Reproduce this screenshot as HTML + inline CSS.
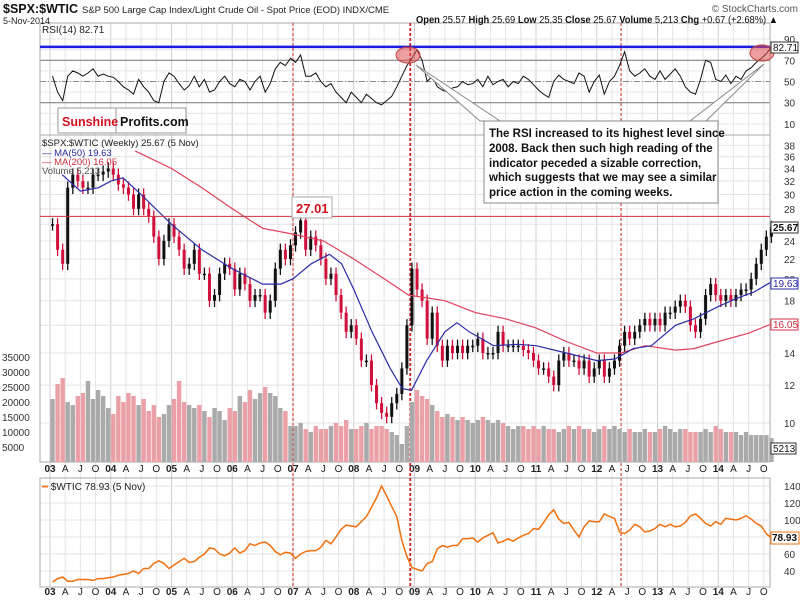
<!DOCTYPE html>
<html><head><meta charset="utf-8"><style>
body{margin:0;background:#fff;font-family:"Liberation Sans",sans-serif}
svg text{font-family:"Liberation Sans",sans-serif}
</style></head><body>
<svg id="c" width="800" height="601" viewBox="0 0 800 601" xmlns="http://www.w3.org/2000/svg">
<rect width="800" height="601" fill="#fff"/>
<g id="grid"></g>
<g id="marks"></g>
<g id="over"></g>
</svg>
<script>
const startYear = 2003;
const months = 142;
const priceClose = [26,23,21.5,31,33,32,31,31,33,33,33.5,34,
33,31.5,31,30,28,30,28,27,24.5,22,24,26,
24.5,23,21,21.5,23,20.5,20.5,18,18.5,20.5,21.5,21,
19,20.5,19.5,18,18.5,18.5,17,18,21,23,22,23.5,
25,26.5,23,24.5,23.5,22,20,20.5,18.5,17,15.5,16,
15,13.5,13.5,12,11,10.5,10.3,11,11.5,13,16,21,
19,18,15,17,14.5,13.5,14.5,14,14.5,14,14.5,14.5,
15,14,14,14,15.5,14.5,14.5,14.5,14.5,14.2,14,13.5,
13,13,12.5,12,13.5,14,13.5,13.5,13,13.5,12.5,13,
13.5,12.5,13,13.5,14.5,15.5,15,15.5,16,16.5,16,16.5,
16,17,17,17.5,18,17.5,16,15.5,16.5,18.5,19.5,18.5,
18,18.5,18,18.5,19,19,20,21.5,23,24.5,25.67];
const ma50T = [2003.2,2003.5,2003.8,2004.0,2004.2,2004.5,2005.0,2005.5,2006.0,2006.5,2006.8,2007.0,2007.3,2007.6,2007.8,2008.0,2008.3,2008.6,2008.8,2008.95,2009.2,2009.5,2009.7,2009.9,2010.3,2010.7,2011.0,2011.5,2012.0,2012.3,2012.6,2012.9,2013.3,2013.6,2014.0,2014.3,2014.6,2014.85];
const ma50V = [33,30.5,31,32,32.5,30,26,23,21,19.5,19.5,20,21.5,22.5,21.5,19,15.5,13,11.8,11.7,13.5,15.5,16.2,15.5,14.5,14.6,14.5,14,13.5,13.6,14.3,14.5,16,16.5,17.5,18.2,18.8,19.63];
const ma200T = [2004.4,2005.0,2005.5,2006.0,2006.5,2007.0,2007.5,2008.0,2008.5,2008.9,2009.5,2010.0,2010.5,2011.0,2011.5,2012.0,2012.4,2012.8,2013.3,2013.6,2014.0,2014.5,2014.85];
const ma200V = [37,34,31,28,25.5,24.8,24,22,20,18.5,18,17,16.5,15.8,14.8,14,14,14.5,14.2,14.3,14.8,15.4,16.05];
const volume = [21,26,28,20,19,22,23,27,21,24,22,18,
16,22,20,23,22,19,21,17,19,15,16,19,
21,27,20,19,18,19,17,15,18,17,14,18,
17,22,20,24,21,23,25,23,22,18,17,12,
12,13,11,10,12,11,11,12,13,12,14,11,
11,12,13,11,12,12,11,10,9,6,12,20,
24,22,21,19,17,15,16,15,14,15,14,13,
14,15,14,13,14,13,12,11,12,12,11,12,
11,12,11,11,10,11,12,11,12,11,11,10,
11,12,11,12,11,10,11,10,10,11,10,10,
11,12,11,10,11,11,10,10,10,11,10,12,
11,10,10,10,9,10,9,9,9,9,8];
const rsi = [55,40,32,55,60,58,55,58,62,55,57,55,
54,50,45,42,38,52,45,40,32,30,50,58,
55,48,42,46,55,45,52,40,42,50,55,48,
45,52,50,42,50,55,40,48,62,68,65,72,
68,75,55,55,58,50,45,48,40,35,30,40,
35,30,38,34,30,28,32,36,45,55,65,72,
80,70,50,55,45,42,40,44,45,50,47,48,
52,45,55,47,50,52,45,50,48,55,52,47,
42,38,35,50,56,52,50,48,58,55,40,50,
56,38,50,55,65,78,60,55,58,62,55,52,
60,52,57,62,55,45,40,38,52,70,68,52,
50,56,48,55,52,60,63,68,72,76,82.71];
const wtic = [27,31,33,28,28,30,30,30,29,31,31,32,
33,35,36,37,40,37,43,43,49,52,49,43,
47,51,55,50,51,56,60,67,66,60,58,61,
67,61,64,72,70,73,74,70,63,59,62,61,
55,60,63,64,64,68,76,72,80,89,94,93,
92,98,104,115,126,140,128,116,104,76,57,44,
42,40,49,51,66,70,68,70,70,78,78,79,
74,79,82,85,73,75,78,75,79,82,84,90,
89,97,106,112,101,96,97,88,80,92,99,98,
98,107,104,102,86,84,88,95,92,86,87,90,
95,92,95,92,93,97,105,107,102,96,93,98,
95,102,101,100,102,105,101,96,93,84,78.93];
const rsiTicks = [90,70,50,30,10];
const priceTicks = [38,36,34,32,30,28,24,22,20,18,14,12,10];
const volTicks = [35000,30000,25000,20000,15000,10000,5000];
const wticTicks = [140,120,100,60,40];
const yearLabels = ["03","04","05","06","07","08","09","10","11","12","13","14"];
const qLabels = ["A","J","O"];
const markerDates = [2007.0,2008.93,2012.4];

const NS="http://www.w3.org/2000/svg";
const X0=50, PX=60.75, XR=770;
const xT=t=>X0+(t-startYear)*PX;
const xM=i=>xT(startYear+(i+0.5)/12);
const yR=v=>81.5-(v-50)*1.06;
const yP=v=>423-208*Math.log(v/10);
const yV=v=>462-v*15/5000;
const yW=v=>571-(v-40)*0.85;
function mk(tag,attrs,parent,name,text){const e=document.createElementNS(NS,tag);for(const k in attrs)e.setAttribute(k,attrs[k]);


if(text!==undefined)e.textContent=text;document.getElementById(parent).appendChild(e);return e;}

const panels=[[40,23,135],[40,135,462],[40,478,587]];
for(let y=startYear;y<=2014;y++)for(let q=0;q<4;q++){const x=xT(y+q/4);if(x>XR)continue;
 mk('line',{x1:x,x2:x,y1:23,y2:587,stroke:q==0?'#cfcfcf':'#e4e4e4','stroke-width':1},'grid','v-gridline');}
for(let v=10;v<=90;v+=10){mk('line',{x1:40,x2:XR,y1:yR(v),y2:yR(v),stroke:'#e6e6e6'},'grid','rsi-gridline');}
mk('line',{x1:40,x2:XR,y1:yR(70),y2:yR(70),stroke:'#888','stroke-width':1.2},'grid','rsi-70-line');
mk('line',{x1:40,x2:XR,y1:yR(30),y2:yR(30),stroke:'#888','stroke-width':1.2},'grid','rsi-30-line');
mk('line',{x1:40,x2:XR,y1:yR(50),y2:yR(50),stroke:'#888','stroke-dasharray':'6,2,1,2'},'grid','rsi-50-line');
rsiTicks.forEach(v=>mk('text',{x:784,y:yR(v)+4,'font-size':10,fill:'#333'},'grid','rsi-tick',v));
[10,12,14,16,18,20,22,24,26,28,30,32,34,36,38].forEach(v=>mk('line',{x1:40,x2:XR,y1:yP(v),y2:yP(v),stroke:'#e4e4e4'},'grid','price-gridline'));
priceTicks.forEach(v=>mk('text',{x:784,y:yP(v)+4,'font-size':10,fill:'#333'},'grid','price-tick',v));
volTicks.forEach(v=>mk('text',{x:2,y:yV(v)+4,'font-size':10,fill:'#333'},'grid','volume-tick',v));
[40,60,80,100,120,140].forEach(v=>mk('line',{x1:40,x2:XR,y1:yW(v),y2:yW(v),stroke:'#e4e4e4'},'grid','wtic-gridline'));
wticTicks.forEach(v=>mk('text',{x:784,y:yW(v)+4,'font-size':10,fill:'#333'},'grid','wtic-tick',v));
panels.forEach(p=>mk('rect',{x:p[0],y:p[1],width:XR-p[0],height:p[2]-p[1],fill:'none',stroke:'#aaa'},'grid','panel-border'));
[472,595].forEach(ay=>{for(let y=0;y<12;y++){mk('text',{x:xT(startYear+y),y:ay,'font-size':10,'font-weight':'bold','text-anchor':'middle',fill:'#222'},'grid','year-label',yearLabels[y]);
 for(let q=1;q<4;q++){const x=xT(startYear+y+q/4);if(x>XR-2)continue;mk('text',{x:x,y:ay,'font-size':10,'text-anchor':'middle',fill:'#222'},'grid','quarter-label',qLabels[q-1]);}}});
markerDates.forEach((t,i)=>mk('line',{x1:xT(t),x2:xT(t),y1:23,y2:587,stroke:'#d02020','stroke-dasharray':'3,2','stroke-width':i==1?1.8:1},'grid','marker-line'));

volume.forEach((v,i)=>{const up=i==0||priceClose[i]>=priceClose[i-1];const x=xM(i);
 mk('rect',{x:x-2.2,y:yV(v*1000),width:4.4,height:462-yV(v*1000),fill:up?'#aaaaaa':'#eaa0a6'},'marks','volume-bar');});
priceClose.forEach((v,i)=>{const p=i?priceClose[i-1]:v;const up=v>=p;const x=xM(i);
 const hi=Math.max(v,p)*1.03,lo=Math.min(v,p)*0.97;
 mk('line',{x1:x,x2:x,y1:yP(hi),y2:yP(lo),stroke:up?'#111':'#d0103a','stroke-width':1.3},'marks','price-bar');
 mk('rect',{x:x-1.5,y:Math.min(yP(v),yP(p)),width:3,height:Math.max(1.5,Math.abs(yP(v)-yP(p))),fill:up?'#111':'#d0103a'},'marks','price-body');});
function poly(ts,vs,yf,col,w,name,xf){const pts=vs.map((v,i)=>(xf?xf(i):xT(ts[i])).toFixed(1)+','+yf(v).toFixed(1)).join(' ');
 mk('polyline',{points:pts,fill:'none',stroke:col,'stroke-width':w},'marks',name);}
poly(ma200T,ma200V,yP,'#e0405a',1.2,'ma200-line');
poly(ma50T,ma50V,yP,'#2a2aa8',1.2,'ma50-line');
poly(null,rsi,yR,'#111',1,'rsi-line',xM);
poly(null,wtic,yW,'#f07010',1.5,'wtic-line',xM);
mk('line',{x1:40,x2:XR,y1:yR(82.71),y2:yR(82.71),stroke:'#1a1ae0','stroke-width':2.5},'marks','rsi-high-line');
mk('line',{x1:40,x2:XR,y1:yP(27.01),y2:yP(27.01),stroke:'#d03040','stroke-width':1},'marks','level-27-line');
</script>
<svg width="800" height="601" style="position:absolute;left:0;top:0" xmlns="http://www.w3.org/2000/svg">
<text x="3" y="13" font-size="12.5" font-weight="bold" fill="#111">$SPX:$WTIC</text>
<text x="82" y="13" font-size="9.5" fill="#222">S&amp;P 500 Large Cap Index/Light Crude Oil - Spot Price (EOD) INDX/CME</text>
<text x="3" y="24" font-size="9" fill="#222">5-Nov-2014</text>
<text x="798" y="12" font-size="10" fill="#555" text-anchor="end">© StockCharts.com</text>
<text x="416" y="23" font-size="10" fill="#111" textLength="362" lengthAdjust="spacingAndGlyphs"><tspan font-weight="bold">Open</tspan> 25.57 <tspan font-weight="bold">High</tspan> 25.69 <tspan font-weight="bold">Low</tspan> 25.35 <tspan font-weight="bold">Close</tspan> 25.67 <tspan font-weight="bold">Volume</tspan> 5,213 <tspan font-weight="bold">Chg</tspan> +0.67 (+2.68%) ▲</text>
<text x="42" y="33" font-size="10" fill="#222">RSI(14) 82.71</text>
<ellipse cx="408" cy="55" rx="12" ry="8" fill="#e05050" fill-opacity="0.55" stroke="#c04040"/>
<ellipse cx="762" cy="53" rx="12" ry="8" fill="#e05050" fill-opacity="0.55" stroke="#c04040"/>
<polygon points="416,65 480,121 500,121" fill="#fff" stroke="#888"/>
<polygon points="764,64 690,121 706,121" fill="#fff" stroke="#888"/>
<rect x="484" y="121" width="234" height="82" fill="#fff" stroke="#888"/>
<g font-size="11.5" font-weight="bold" fill="#111">
<text x="489" y="137">The RSI increased to its highest level since</text>
<text x="489" y="152">2008. Back then such high reading of the</text>
<text x="489" y="167">indicator peceded a sizable correction,</text>
<text x="489" y="181">which suggests that we may see a similar</text>
<text x="489" y="196">price action in the coming weeks.</text>
</g>
<rect x="58" y="108" width="128" height="25" fill="#fff" stroke="#999"/>
<line x1="116" y1="108" x2="116" y2="133" stroke="#999"/>
<text x="62" y="126" font-size="12.5" font-weight="bold" fill="#d01020">Sunshine</text>
<text x="120" y="126" font-size="12.5" font-weight="bold" fill="#111">Profits.com</text>
<g font-size="9.5">
<text x="42" y="146" fill="#222">$SPX:$WTIC (Weekly) 25.67 (5 Nov)</text>
<text x="42" y="156" fill="#2a2aa8">— MA(50) 19.63</text>
<text x="42" y="165" fill="#d03040">— MA(200) 16.05</text>
<text x="42" y="174" fill="#555">Volume 5,213</text>
</g>
<rect x="292" y="197" width="40" height="21" fill="#fff" stroke="#aaa"/>
<text x="296" y="213" font-size="13" font-weight="bold" fill="#d01020">27.01</text>
<g font-size="10">
<rect x="771" y="42" width="27" height="11" fill="#fff" stroke="#333"/><text x="773" y="51" fill="#111">82.71</text>
<rect x="771" y="222" width="27" height="11" fill="#fff" stroke="#333"/><text x="773" y="231" fill="#111" font-weight="bold">25.67</text>
<rect x="771" y="278" width="27" height="11" fill="#fff" stroke="#2a2aa8"/><text x="773" y="287" fill="#2a2aa8">19.63</text>
<rect x="771" y="319" width="27" height="11" fill="#fff" stroke="#d03040"/><text x="773" y="328" fill="#d03040">16.05</text>
<rect x="771" y="443" width="25" height="11" fill="#fff" stroke="#333"/><text x="773" y="452" fill="#111">5213</text>
<rect x="771" y="532" width="28" height="12" fill="#fff" stroke="#f07010"/><text x="772" y="541" fill="#111" font-weight="bold">78.93</text>
</g>
<text x="42" y="490" font-size="10" fill="#222"><tspan fill="#f07010">━</tspan> $WTIC 78.93 (5 Nov)</text>
</svg>
</body></html>
